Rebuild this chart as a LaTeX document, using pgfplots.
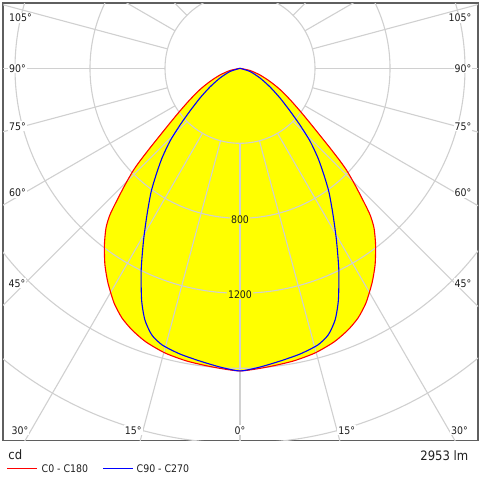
\documentclass[border=0pt]{standalone}
\usepackage{fontspec}
\setmainfont{DejaVu Sans Condensed}
\usepackage{pgfplots}
\pgfplotsset{compat=1.18}
\usepackage{pgfplotstable}
\definecolor{gridc}{RGB}{208,208,208}
\definecolor{framec}{RGB}{95,95,95}
\definecolor{txt}{RGB}{30,30,30}
\definecolor{yel}{RGB}{255,255,0}
\definecolor{cred}{RGB}{255,0,0}
\definecolor{cblue}{RGB}{0,0,255}

% C0 - C180 (a<0: C180 side, a>0: C0 side), gamma in degrees, intensity in cd
\pgfplotstableread{
a cd
-90 0
-77.6 55
-71.5 113
-66.3 175
-62.1 241
-58.0 314
-54.6 393
-52.0 474
-50.0 557
-48.5 641
-47.2 727
-46.2 791
-44.6 874
-43.0 961
-41.6 1045
-40.0 1112
-37.5 1188
-34.5 1272
-31.6 1344
-28.2 1421
-25.3 1473
-22.4 1510
-19.0 1543
-14.8 1570
-10.3 1587
-5.2 1600
0 1614
5.2 1600
10.3 1587
14.8 1570
19.0 1543
22.4 1510
25.3 1473
28.2 1421
31.6 1344
34.5 1272
37.5 1188
40.0 1112
41.6 1045
43.0 961
44.6 874
46.2 791
47.2 727
48.5 641
50.0 557
52.0 474
54.6 393
58.0 314
62.1 241
66.3 175
71.5 113
77.6 55
90 0
}\redcurve

% C90 - C270
\pgfplotstableread{
a cd
-90 0
-72.3 56
-64.1 119
-58.1 189
-53.4 266
-49.5 351
-46.6 440
-43.9 538
-41.0 634
-38.2 724
-35.7 813
-32.4 926
-29.3 1051
-26.1 1198
-23.0 1343
-20.7 1435
-18.3 1498
-15.7 1533
-11.9 1557
-7.8 1576
-3.8 1597
0 1614
3.8 1597
7.8 1576
11.9 1557
15.7 1533
18.3 1498
20.7 1435
23.0 1343
26.1 1198
29.3 1051
32.4 926
35.7 813
38.2 724
41.0 634
43.9 538
46.6 440
49.5 351
53.4 266
58.1 189
64.1 119
72.3 56
90 0
}\bluecurve

\begin{document}
\begin{tikzpicture}
\path[use as bounding box] (0bp,0bp) rectangle (480bp,-480bp);
\begin{axis}[
  at={(3bp,-3bp)}, anchor=north west,
  scale only axis, width=475bp, height=437.5bp,
  xmin=-1264, xmax=1269.3, ymin=-1985.1, ymax=348.3,
  ticks=none,
  axis line style={framec, line width=1.6bp},
  clip=true,
]
\addplot[fill=yel, draw=none, data cs=polar, smooth, tension=0.4]
  table[x expr=\thisrow{a}+270, y=cd]{\redcurve};
\draw[gridc, line width=1.1bp] (axis cs:0,0) circle[radius=400];
\draw[gridc, line width=1.1bp] (axis cs:0,0) circle[radius=800];
\draw[gridc, line width=1.1bp] (axis cs:0,0) circle[radius=1200];
\draw[gridc, line width=1.1bp] (axis cs:0,0) circle[radius=1600];
\draw[gridc, line width=1.1bp] (axis cs:0,0) circle[radius=2000];
\draw[gridc, line width=1.1bp] (axis cs:0,0) circle[radius=2400];
\pgfplotsinvokeforeach{0,15,...,345}{
  \draw[gridc, line width=1.1bp] (axis cs:{400*cos(#1)},{400*sin(#1)}) -- (axis cs:{3200*cos(#1)},{3200*sin(#1)});
}
\addplot[cred, line width=1.1bp, data cs=polar, smooth, tension=0.4]
  table[x expr=\thisrow{a}+270, y=cd]{\redcurve};
\addplot[cblue, line width=1.1bp, data cs=polar, smooth, tension=0.4]
  table[x expr=\thisrow{a}+270, y=cd]{\bluecurve};
\end{axis}

\tikzset{lab/.style={text=txt, font=\fontsize{10.5}{12}\selectfont, inner sep=1bp, fill=white}}
% left angle labels
\node[lab, anchor=base west] at (8bp,-21.5bp) {105°};
\node[lab, anchor=base west] at (8bp,-72.3bp) {90°};
\node[lab, anchor=base west] at (8bp,-130bp) {75°};
\node[lab, anchor=base west] at (8bp,-196.5bp) {60°};
\node[lab, anchor=base west] at (7.5bp,-287bp) {45°};
% right angle labels
\node[lab, anchor=base east] at (472.5bp,-21.5bp) {105°};
\node[lab, anchor=base east] at (472.5bp,-72.3bp) {90°};
\node[lab, anchor=base east] at (472.5bp,-130bp) {75°};
\node[lab, anchor=base east] at (472.5bp,-196.5bp) {60°};
\node[lab, anchor=base east] at (472.5bp,-287bp) {45°};
% bottom labels
\node[lab, anchor=base] at (20bp,-434bp) {30°};
\node[lab, anchor=base] at (133.3bp,-434bp) {15°};
\node[lab, anchor=base] at (240bp,-434bp) {0°};
\node[lab, anchor=base] at (346.7bp,-434bp) {15°};
\node[lab, anchor=base] at (459.5bp,-434bp) {30°};
% intensity labels
\node[lab, fill=yel, anchor=base] at (240bp,-223.3bp) {800};
\node[lab, fill=yel, anchor=base] at (240bp,-298.3bp) {1200};
% footer
\node[text=txt, font=\fontsize{13}{15}\selectfont, inner sep=0pt, anchor=base west] at (8.3bp,-459.5bp) {cd};
\node[text=txt, font=\fontsize{13}{15}\selectfont, inner sep=0pt, anchor=base east] at (468.5bp,-460bp) {2953 lm};
\draw[cred, line width=1.1bp] (7.3bp,-468.7bp) -- (37.3bp,-468.7bp);
\node[text=txt, font=\fontsize{10.5}{12}\selectfont, inner sep=0pt, anchor=base west] at (41.5bp,-472.5bp) {C0 - C180};
\draw[cblue, line width=1.1bp] (103.3bp,-468.7bp) -- (133.3bp,-468.7bp);
\node[text=txt, font=\fontsize{10.5}{12}\selectfont, inner sep=0pt, anchor=base west] at (136.5bp,-472.5bp) {C90 - C270};
\end{tikzpicture}
\end{document}
